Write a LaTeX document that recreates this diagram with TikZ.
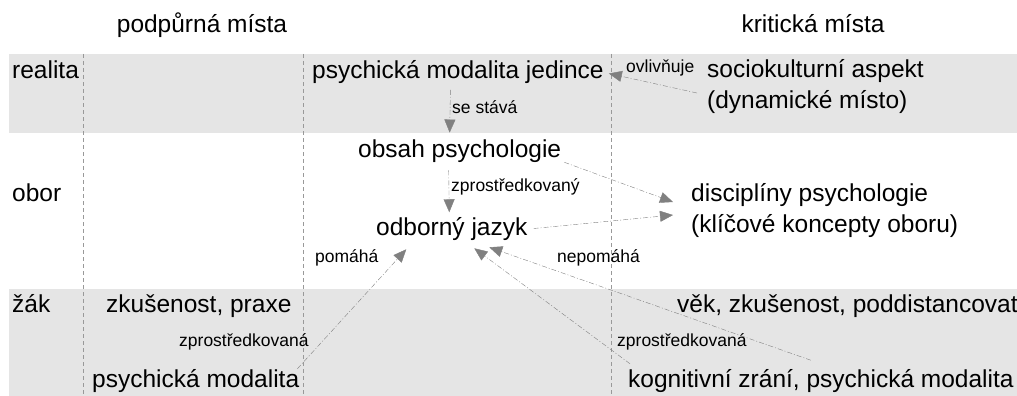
\documentclass[tikz,border=0pt]{standalone}
\usepackage{fontspec}
\setmainfont{Liberation Sans}
\usetikzlibrary{arrows.meta}

\definecolor{bandgray}{gray}{0.9}
\definecolor{sepgray}{gray}{0.6}
\definecolor{relgray}{gray}{0.5}

\begin{document}
\begin{tikzpicture}[x=1pt,y=-1pt,
    txt/.style={inner sep=0pt,anchor=base west,font=\fontsize{24.5}{31}\selectfont},
    lbl/.style={inner sep=0pt,anchor=base west,font=\fontsize{17.5}{21}\selectfont},
    head/.style={inner sep=0pt,anchor=base,font=\fontsize{24.5}{31}\selectfont},
    sep/.style={sepgray,dash pattern=on 4pt off 3pt},
    rel/.style={relgray,dash pattern=on 5pt off 2pt on 1pt off 2pt,
      -{Triangle[length=13pt,width=11pt]}}]

    % picture size
    \useasboundingbox (0,0) rectangle (1017,396);

    % bands
    \fill[bandgray] (9,54) rectangle (1017,133);
    \fill[bandgray] (9,289) rectangle (1017,396);

    % columns
    \begin{scope}
    \draw[sep] (83,54) -- (83,396);
    \draw[sep] (303,54) -- (303,396);
    \draw[sep] (611,54) -- (611,396);
    \end{scope}

    % headers and rows
    \node[head] (podp) at (202,33) {podpůrná místa};
    \node[head] (krit) at (813,33) {kritická místa};
    \node[txt] (realita) at (12,78) {realita};
    \node[txt] (obor) at (12,201) {obor};
    \node[txt] (zak) at (12,312) {žák};

    % realita (base = last line)
    \node[txt] (psych) at (312,78) {psychická modalita jedince};
    \node[txt,align=left] (socio) at (707,108) {sociokulturní aspekt\\(dynamické místo)};

    % obor
    \node[txt] (obsah) at (358,157) {obsah psychologie};
    \node[txt] (jazyk) at (376,235) {odborný jazyk};
    \node[txt,align=left] (disc) at (691,232) {disciplíny psychologie\\(klíčové koncepty oboru)};

    % zak
    \node[txt] (zkus) at (106,312) {zkušenost, praxe};
    \node[txt] (modal) at (92,387) {psychická modalita};
    \node[txt] (vek) at (677,312) {věk, zkušenost, poddistancovat};
    \node[txt] (kogn) at (628,387) {kognitivní zrání, psychická modalita};

    % relations
    \draw[rel] ([shift={(-7.5,6.5)}]psych.south) -- ([shift={(-10,-6.5)}]obsah.north);
    \draw[rel] ([shift={(-10,7)}]socio.west) -- ([shift={(5,2)}]psych.east);
    \draw[rel] ([shift={(-11,8)}]obsah.south) -- ([shift={(-2.5,-4.5)}]jazyk.north);
    \draw[rel] ([shift={(3,0)}]obsah.south east) -- ([shift={(-18,-8)}]disc.west);
    \draw[rel] ([shift={(6,0)}]jazyk.east) -- ([shift={(-18,5)}]disc.west);
    \draw[rel] ([shift={(-2,0)}]modal.north east) -- ([shift={(-45.5,9)}]jazyk.south);
    \draw[rel] ([shift={(2,-5)}]kogn.north west) -- ([shift={(22.5,8)}]jazyk.south);
    \draw[rel] ([shift={(-10,-8.5)}]kogn.north) -- ([shift={(37.5,7)}]jazyk.south);

    % captions
    \node[lbl] (stava) at (452,113) {se stává};
    \node[lbl] (ovliv) at (626,73) {ovlivňuje};
    \node[lbl] (zprosA) at (451,191) {zprostředkovaný};
    \node[lbl] (pomaha) at (315,262) {pomáhá};
    \node[lbl] (nepom) at (557,262) {nepomáhá};
    \node[lbl] (zprosB) at (179,346) {zprostředkovaná};
    \node[lbl] (zprosC) at (617,346) {zprostředkovaná};

\end{tikzpicture}
\end{document}
